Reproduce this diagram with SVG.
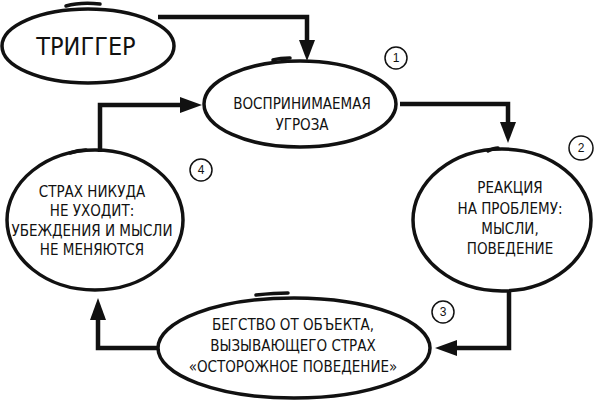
<svg xmlns="http://www.w3.org/2000/svg" width="596" height="409" viewBox="0 0 596 409">
<style>
.shape{fill:none;stroke:#111;stroke-width:3.5}
.tick{fill:none;stroke:#111;stroke-width:3.5;stroke-linecap:round}
.lbl{font-family:"Liberation Sans Narrow","DejaVu Sans Condensed","Liberation Sans",sans-serif;font-size:15px;fill:#111;text-anchor:middle}
.big{font-size:25px}
.conn{fill:none;stroke:#111;stroke-width:4.5}
.head{fill:#111}
.num{fill:none;stroke:#111;stroke-width:1.5}
.numt{font-family:"Liberation Sans","DejaVu Sans",sans-serif;font-size:12px;fill:#111;text-anchor:middle}
</style>
<rect width="596" height="409" fill="#fff"/>
<g id="connectors">
<path class="conn" d="M158,17 H307 V42"/>
<polygon class="head" points="299,40 315,40 307,61"/>
<path class="conn" d="M400,104 H508 V124"/>
<polygon class="head" points="500,122 516,122 508,143"/>
<path class="conn" d="M509,292 V348 H455"/>
<polygon class="head" points="457,340 457,356 435,348"/>
<path class="conn" d="M158,348 H98 V318"/>
<polygon class="head" points="90,320 106,320 98,298"/>
<path class="conn" d="M100,152 V105 H182"/>
<polygon class="head" points="180,97 180,113 202,105"/>
</g>
<g id="trigger">
<ellipse class="shape" cx="88" cy="46" rx="86" ry="37"/>
<path class="tick" d="M66,6 Q80,2 100,4"/>
<text class="lbl big" x="86" y="55">ТРИГГЕР</text>
</g>
<g id="threat">
<ellipse class="shape" cx="300" cy="104" rx="96" ry="43"/>
<path class="tick" d="M273,60 Q280,58 290,58"/>
<text class="lbl" x="302" y="109">ВОСПРИНИМАЕМАЯ</text>
<text class="lbl" x="302" y="130">УГРОЗА</text>
<circle class="num" cx="396" cy="58" r="11"/>
<text class="numt" x="396" y="62">1</text>
</g>
<g id="reaction">
<ellipse class="shape" cx="502" cy="220" rx="89" ry="71"/>
<path class="tick" d="M488,151 Q494,148 498,148"/>
<text class="lbl" x="510" y="193">РЕАКЦИЯ</text>
<text class="lbl" x="510" y="214">НА ПРОБЛЕМУ:</text>
<text class="lbl" x="510" y="234">МЫСЛИ,</text>
<text class="lbl" x="510" y="254">ПОВЕДЕНИЕ</text>
<circle class="num" cx="581" cy="148" r="12"/>
<text class="numt" x="581" y="152">2</text>
</g>
<g id="flight">
<ellipse class="shape" cx="294" cy="348" rx="136" ry="50"/>
<path class="tick" d="M256,295 Q275,293 288,293"/>
<text class="lbl" x="293" y="330">БЕГСТВО ОТ ОБЪЕКТА,</text>
<text class="lbl" x="293" y="351">ВЫЗЫВАЮЩЕГО СТРАХ</text>
<text class="lbl" x="293" y="372">«ОСТОРОЖНОЕ ПОВЕДЕНИЕ»</text>
<circle class="num" cx="443" cy="312" r="11"/>
<text class="numt" x="443" y="316">3</text>
</g>
<g id="fear">
<ellipse class="shape" cx="95" cy="220" rx="88" ry="70"/>
<path class="tick" d="M70,153 Q78,150 86,150"/>
<text class="lbl" x="92" y="197">СТРАХ НИКУДА</text>
<text class="lbl" x="92" y="216">НЕ УХОДИТ:</text>
<text class="lbl" x="92" y="236">УБЕЖДЕНИЯ И МЫСЛИ</text>
<text class="lbl" x="92" y="255">НЕ МЕНЯЮТСЯ</text>
<circle class="num" cx="201" cy="170" r="11"/>
<text class="numt" x="201" y="174">4</text>
</g>
</svg>
